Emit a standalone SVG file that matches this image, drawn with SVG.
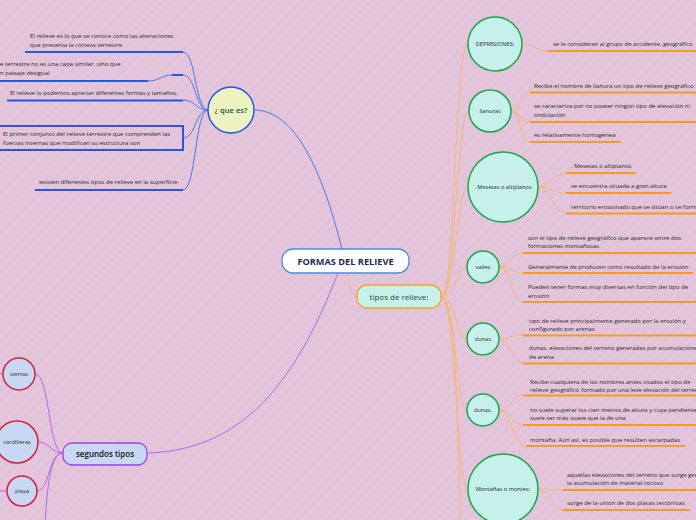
<svg xmlns="http://www.w3.org/2000/svg" width="696" height="520" viewBox="0 0 696 520">
<defs>
<pattern id="stripes" width="7" height="7" patternUnits="userSpaceOnUse" patternTransform="rotate(45)">
<rect width="7" height="7" fill="#e2c3d9"/>
<line x1="0" y1="0" x2="0" y2="7" stroke="#e7cde0" stroke-width="1.5"/>
</pattern>
<style>
.t{font-family:"Open Sans","Liberation Sans",sans-serif;font-size:6px;fill:#2a2a2a}
.ub{stroke:#2456e8;stroke-width:2;fill:none}
.uo{stroke:#f59a23;stroke-width:2;fill:none}
.cb{stroke:#4a78ea;stroke-width:1;fill:none}
.co{stroke:#f7b25e;stroke-width:0.8;fill:none}
.cp{stroke:#b766e6;stroke-width:1;fill:none}
.gc{fill:#c6f0ea;stroke:#1aa34a;stroke-width:1.5}
.rc{fill:#c8d8f2;stroke:#d0203e;stroke-width:1.5}
.cl{font-family:"Open Sans","Liberation Sans",sans-serif;font-size:5.7px;fill:#2a2a2a;text-anchor:middle}
</style>
</defs>
<rect width="696" height="520" fill="url(#stripes)"/>

<g id="connectors">
<path class="cb" d="M342,249 C322,170 295,110 254,110" stroke="#2456e8" stroke-width="1.5"/>
<path class="cp" d="M338,273 C300,370 250,450 148,453" stroke="#a030e8" stroke-width="1.5"/>
<path class="co" d="M348,273 C350,292 352,297 358,297" stroke="#f5a030" stroke-width="1.4"/>
<path class="cb" d="M208,110 C195,110 196,52 183,52"/>
<path class="cb" d="M208,110 C195,110 196,75 183,75"/>
<path class="cb" d="M208,110 C195,110 196,100 183,100"/>
<path class="cb" d="M208,110 C195,110 196,138 183,138"/>
<path class="cb" d="M208,110 C195,110 196,190 183,190"/>
<path class="co" d="M441,297 C456,297 454,44 468,44"/>
<path class="co" d="M441,297 C456,297 456,111 469,111"/>
<path class="co" d="M441,297 C456,297 456,187 468,187"/>
<path class="co" d="M441,297 C456,297 456,267 467,267"/>
<path class="co" d="M441,297 C456,297 456,339 467,339"/>
<path class="co" d="M441,297 C456,297 456,410 467,410"/>
<path class="co" d="M441,297 C456,297 456,489 468,489"/>
<path class="co" d="M441,297 C456,297 458,420 460,525"/>
<path class="co" d="M522,44 C536,44 534,51 548,51"/>
<path class="co" d="M511,111 C522,111 518,92 530,92"/>
<path class="co" d="M511,111 C522,111 518,122 530,122"/>
<path class="co" d="M511,111 C522,111 518,142 530,142"/>
<path class="co" d="M538,187 C552,187 552,173 566,173"/>
<path class="co" d="M538,187 C552,187 552,193 566,193"/>
<path class="co" d="M538,187 C552,187 552,213 566,213"/>
<path class="co" d="M499,267 C511,267 511,253 523,253"/>
<path class="co" d="M499,267 C511,267 511,273 523,273"/>
<path class="co" d="M499,267 C511,267 511,302 523,302"/>
<path class="co" d="M499,339 C511,339 511,335 523,335"/>
<path class="co" d="M499,339 C511,339 511,363 523,363"/>
<path class="co" d="M499,410 C511,410 511,395 523,395"/>
<path class="co" d="M499,410 C511,410 511,425 523,425"/>
<path class="co" d="M499,410 C511,410 513,446 526,446"/>
<path class="co" d="M538,489 C550,489 551,490 563,490"/>
<path class="co" d="M538,489 C550,489 551,510 563,510"/>
<path class="cp" d="M63,453 C48,453 50,374 35,374"/>
<path class="cp" d="M63,453 C50,453 50,442 38,442"/>
<path class="cp" d="M63,453 C48,453 50,491 37,491"/>
<path class="cp" d="M63,453 C50,453 47,490 45,525"/>
<path class="cp" d="M0,374 L3,374"/>
<path class="cp" d="M0,491 L7,491"/>
</g>

<g id="root">
<rect x="282" y="249" width="127" height="24" rx="11" fill="#fff" stroke="#4a8fd8" stroke-width="1.3"/>
<text x="345.5" y="264.5" text-anchor="middle" style="font-family:'Open Sans','Liberation Sans',sans-serif;font-size:9.2px;font-weight:bold;fill:#1c2b5a">FORMAS DEL RELIEVE</text>
</g>

<g id="que-es">
<circle cx="231" cy="110" r="23" fill="#edf2c2" stroke="#2456e8" stroke-width="1.5"/>
<text x="231" y="113" text-anchor="middle" style="font-family:'Open Sans','Liberation Sans',sans-serif;font-size:7.6px;font-weight:600;fill:#1d5a38">¿ que es?</text>
</g>
<g id="q1">
<text class="t" x="30" y="38">El relieve es lo que se conoce como las alteraciones</text>
<text class="t" x="30" y="47">que presenta la corteza terrestre.</text>
<path class="ub" d="M25,52 H183"/>
</g>
<g id="q2">
<text class="t" x="0" y="66">e terrestre no es una capa similar, sino que</text>
<text class="t" x="0" y="75">n paisaje desigual</text>
<path class="ub" d="M0,81 H148"/>
<path class="cb" d="M148,81 C160,81 161,75 172,75" stroke-width="1.2"/>
<path class="ub" d="M172,75 H183"/>
</g>
<g id="q3">
<text class="t" x="10" y="95">El relieve lo podemos apreciar diferentes formas y tamaños,</text>
<path class="ub" d="M7,100.5 H183"/>
</g>
<g id="q4">
<rect x="-2" y="126" width="185" height="24" fill="none" stroke="#2456e8" stroke-width="2"/>
<text class="t" x="3" y="136">El primer conjunto del relieve terrestre que comprenden las</text>
<text class="t" x="3" y="145">fuerzas internas que modifican su estructura son</text>
</g>
<g id="q5">
<text class="t" x="39" y="184">existen diferentes tipos de relieve en la superficie-</text>
<path class="ub" d="M35,190 H183"/>
</g>

<g id="tipos">
<rect x="357" y="285" width="84" height="23" rx="10" fill="#c6f0ea" stroke="#f5a030" stroke-width="1.3"/>
<text x="399" y="299.5" text-anchor="middle" style="font-family:'Open Sans','Liberation Sans',sans-serif;font-size:8px;fill:#1d4a44">tipos de relieve:</text>
</g>

<g id="depresiones">
<circle class="gc" cx="495" cy="44" r="27"/>
<text class="cl" x="495" y="46">DEPRESIONES:</text>
<text class="t" x="553" y="46">se le consideran al grupo de accidente, geográfico</text>
<path class="uo" d="M548,51 H700"/>
</g>

<g id="llanuras">
<circle class="gc" cx="490" cy="111" r="21"/>
<text class="cl" x="490" y="113">llanuras</text>
<text class="t" x="534" y="88">Recibe el nombre de llanura un tipo de relieve geográfico</text>
<path class="uo" d="M530,92.5 H700"/>
<text class="t" x="534" y="108">se caracteriza por no poseer ningún tipo de elevación ni</text>
<text class="t" x="534" y="117">ondulación</text>
<path class="uo" d="M530,122 H700"/>
<text class="t" x="534" y="137">es relativamente homogénea</text>
<path class="uo" d="M530,142 H621"/>
</g>

<g id="mesetas">
<circle class="gc" cx="503" cy="187" r="35"/>
<text class="cl" x="503" y="189">. Mesetas o altiplanos</text>
<text class="t" x="571" y="168">. Mesetas o altiplanos</text>
<path class="uo" d="M566,173 H636"/>
<text class="t" x="571" y="188">se encuentra situada a gran altura</text>
<path class="uo" d="M566,193 H671"/>
<text class="t" x="571" y="209">territorio erosionado que se sitúan o se forma</text>
<path class="uo" d="M566,213.5 H700"/>
</g>

<g id="valles">
<circle class="gc" cx="483" cy="267" r="16"/>
<text class="cl" x="483" y="269">valles</text>
<text class="t" x="528" y="240">son el tipo de relieve geográfico que aparece entre dos</text>
<text class="t" x="528" y="248">formaciones montañosas</text>
<path class="uo" d="M523,253 H700"/>
<text class="t" x="528" y="268.5">Generalmente de producen como resultado de la erosión</text>
<path class="uo" d="M523,273 H693"/>
<text class="t" x="528" y="289">Pueden tener formas muy diversas en función del tipo de</text>
<text class="t" x="528" y="297.5">erosión</text>
<path class="uo" d="M523,302 H700"/>
</g>

<g id="dunas">
<circle class="gc" cx="483" cy="339" r="16"/>
<text class="cl" x="483" y="341">dunas</text>
<text class="t" x="529" y="323">tipo de relieve principalmente generado por la erosión y</text>
<text class="t" x="529" y="331">configurado por arenas</text>
<path class="uo" d="M523,335.5 H700"/>
<text class="t" x="529" y="350">dunas, elevaciones del terreno generadas por acumulaciones</text>
<text class="t" x="529" y="359">de arena</text>
<path class="uo" d="M523,363.5 H700"/>
</g>

<g id="dunas2">
<circle class="gc" cx="483" cy="410" r="16"/>
<text class="cl" x="483" y="412">dunas,</text>
<text class="t" x="530" y="384">Recibe cualquiera de los nombres antes citados el tipo de</text>
<text class="t" x="530" y="392">relieve geográfico formado por una leve elevación del terreno</text>
<path class="uo" d="M523,395.5 H700"/>
<text class="t" x="530" y="412">no suele superar los cien metros de altura y cuya pendiente</text>
<text class="t" x="530" y="420">suele ser más suave que la de una</text>
<path class="uo" d="M523,425 H700"/>
<text class="t" x="530" y="442">montaña. Aún así, es posible que resulten escarpadas</text>
<path class="uo" d="M526,446 H685"/>
</g>

<g id="montanas">
<circle class="gc" cx="503" cy="489" r="35"/>
<text class="cl" x="503" y="491">Montañas o montes:</text>
<text class="t" x="567" y="477">aquellas elevaciones del terreno que surge gen</text>
<text class="t" x="567" y="485">la acumulación de material rocoso</text>
<path class="uo" d="M563,490 H700"/>
<text class="t" x="567" y="505">surge de la unión de dos placas tectónicas</text>
<path class="uo" d="M563,510 H690"/>
</g>

<g id="segundos">
<rect x="63" y="443" width="84" height="22" rx="9" fill="#c8d8f2" stroke="#a040e8" stroke-width="1.3"/>
<text x="105" y="457" text-anchor="middle" style="font-family:'Open Sans','Liberation Sans',sans-serif;font-size:8px;font-weight:600;fill:#111">segundos tipos</text>
</g>

<g id="sierras">
<circle class="rc" cx="19" cy="374" r="16"/>
<text class="cl" x="19" y="376">sierras</text>
</g>
<g id="cordilleras">
<circle class="rc" cx="17" cy="442" r="21"/>
<text class="cl" x="17" y="444">cordilleras</text>
</g>
<g id="playa">
<circle class="rc" cx="22" cy="491" r="15"/>
<text class="cl" x="22" y="493">playa</text>
</g>
</svg>
